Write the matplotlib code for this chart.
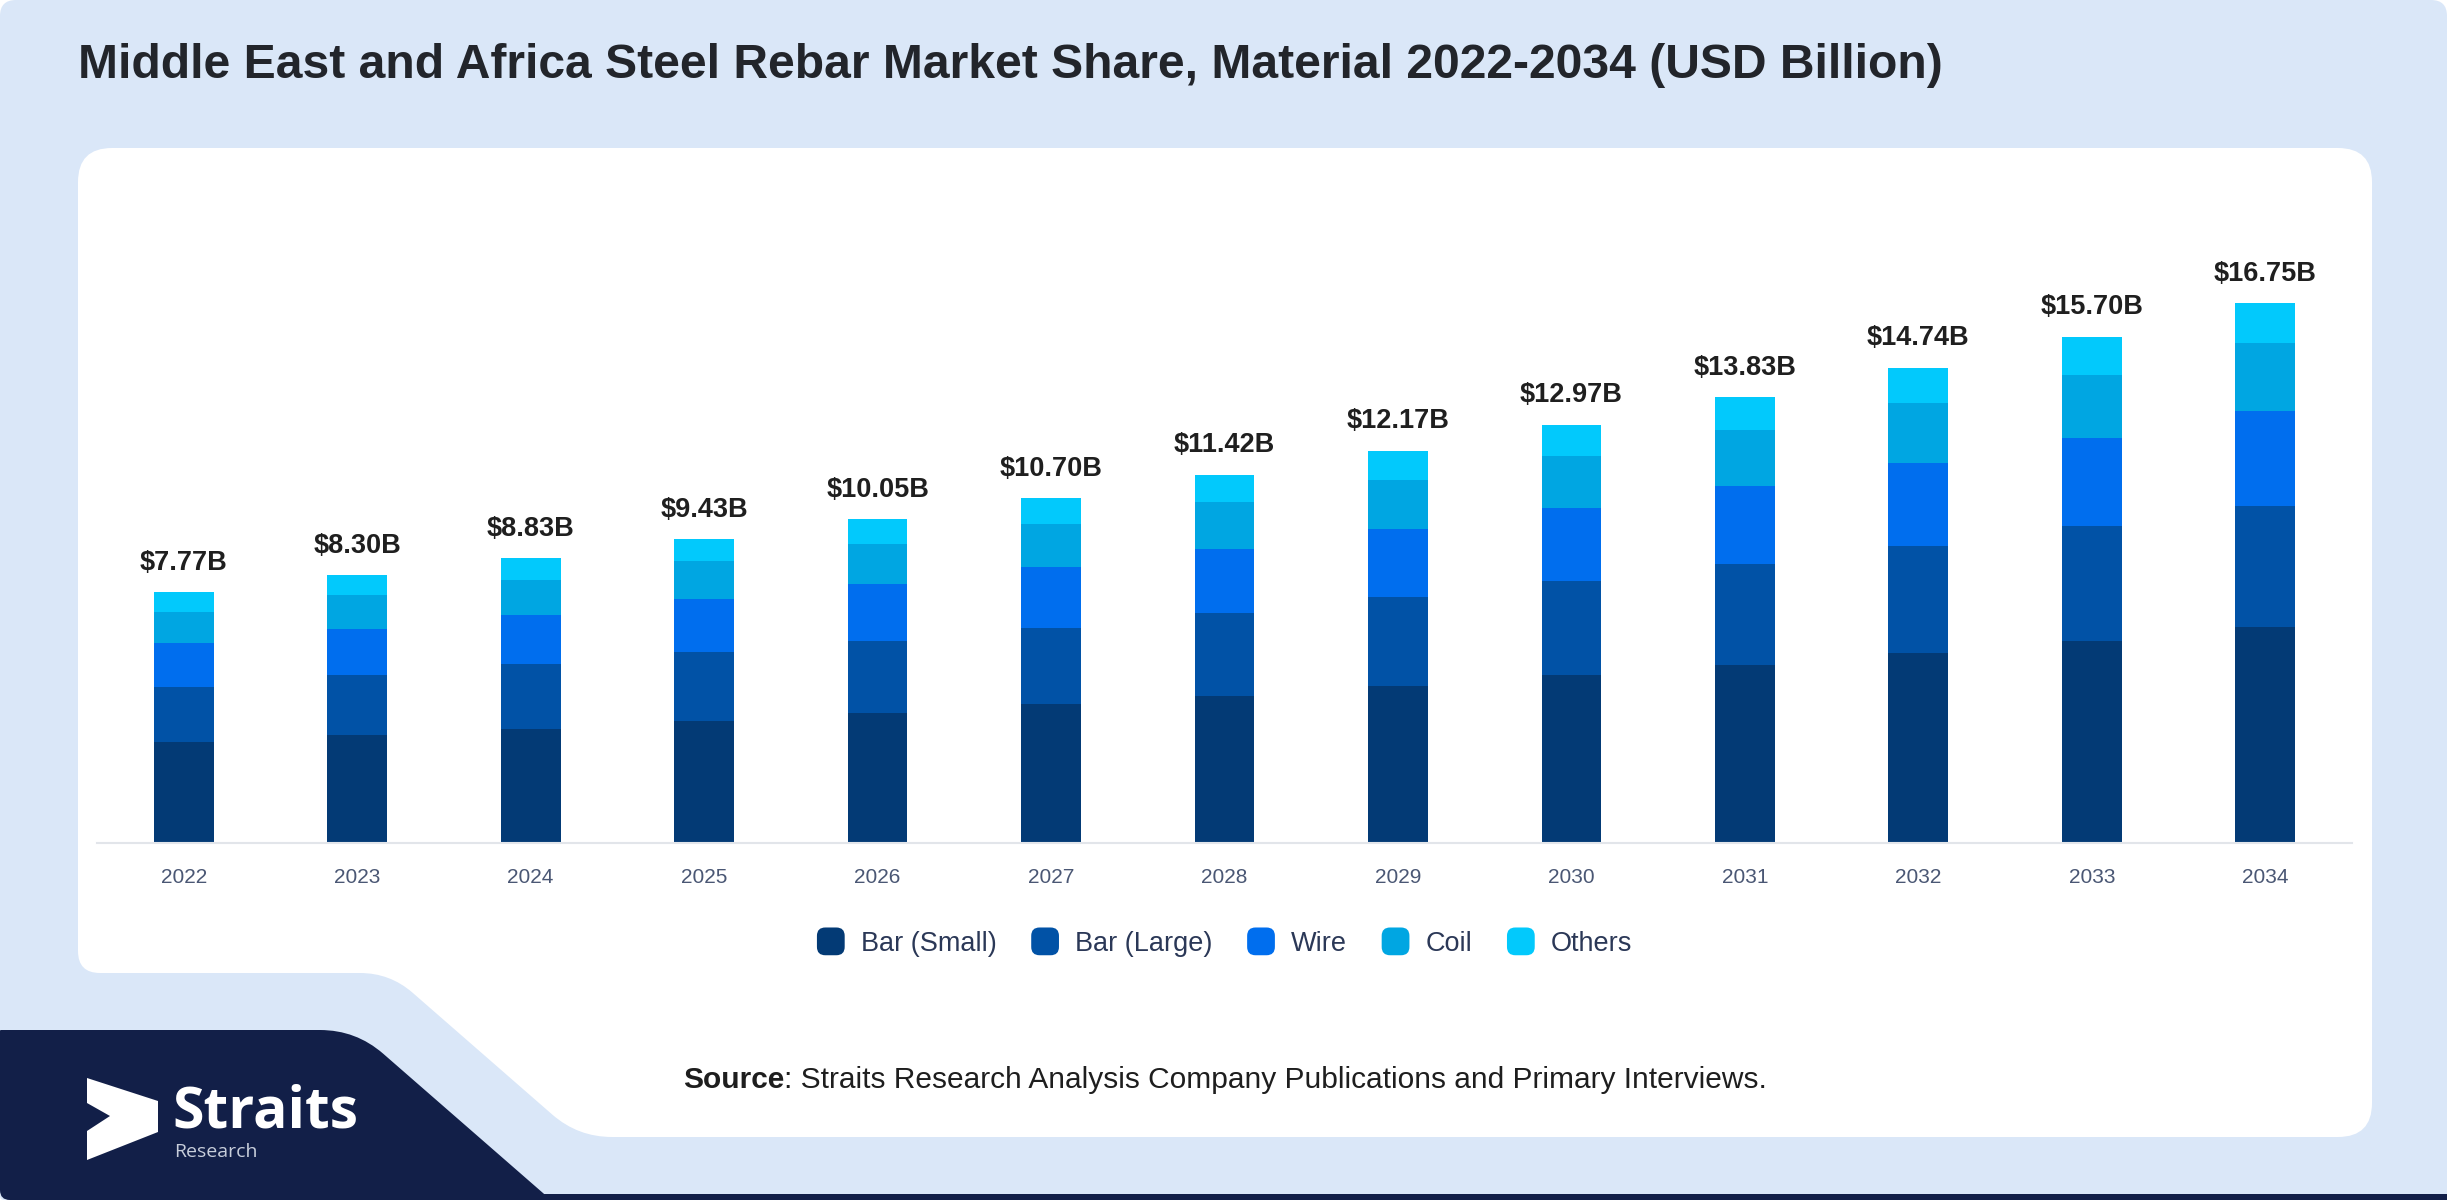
import numpy as np
import matplotlib
matplotlib.use("Agg")
import matplotlib.pyplot as plt
from matplotlib.path import Path
from matplotlib.patches import PathPatch, Patch, FancyBboxPatch, Polygon
from matplotlib.legend_handler import HandlerPatch

plt.rcParams['font.family'] = ['Liberation Sans', 'DejaVu Sans']

# data (USD Billion)
years = ['2022', '2023', '2024', '2025', '2026', '2027', '2028',
         '2029', '2030', '2031', '2032', '2033', '2034']
bar_small = [3.12, 3.34, 3.54, 3.79, 4.04, 4.31, 4.57, 4.88, 5.22, 5.52, 5.90, 6.27, 6.70]
bar_large = [1.72, 1.86, 2.01, 2.13, 2.22, 2.37, 2.56, 2.74, 2.90, 3.12, 3.32, 3.55, 3.75]
wire = [1.36, 1.44, 1.53, 1.65, 1.77, 1.88, 1.99, 2.12, 2.27, 2.43, 2.57, 2.73, 2.94]
coil = [0.96, 1.04, 1.09, 1.17, 1.25, 1.32, 1.44, 1.52, 1.60, 1.74, 1.84, 1.96, 2.11]
others = [0.61, 0.62, 0.66, 0.69, 0.77, 0.82, 0.86, 0.91, 0.98, 1.02, 1.11, 1.19, 1.25]
totals = [7.77, 8.30, 8.83, 9.43, 10.05, 10.70, 11.42, 12.17, 12.97, 13.83, 14.74, 15.70, 16.75]

series = ['Bar (Small)', 'Bar (Large)', 'Wire', 'Coil', 'Others']
colors = ['#033a75', '#0152a6', '#006eee', '#00a6e2', '#02c9fc']

LIGHT = '#dae7f8'
NAVY = '#121f48'


def rounded_path(pts, radii):
    # polygon with quadratic-rounded corners
    verts, codes = [], []
    n = len(pts)
    for i in range(n):
        p0 = np.array(pts[i - 1], float)
        p1 = np.array(pts[i], float)
        p2 = np.array(pts[(i + 1) % n], float)
        r = radii[i]
        d1 = (p0 - p1) / np.linalg.norm(p0 - p1)
        d2 = (p2 - p1) / np.linalg.norm(p2 - p1)
        a = p1 + d1 * r
        b = p1 + d2 * r
        verts.append(a)
        codes.append(Path.MOVETO if i == 0 else Path.LINETO)
        verts += [p1, b]
        codes += [Path.CURVE3, Path.CURVE3]
    verts.append(verts[0])
    codes.append(Path.CLOSEPOLY)
    return Path(verts, codes)


fig = plt.figure(figsize=(24.5, 12), dpi=100)
fig.patch.set_facecolor('white')

# background card in pixel coordinates
bg = fig.add_axes([0, 0, 1, 1], zorder=-1)
bg.set_xlim(0, 2450)
bg.set_ylim(1200, 0)
bg.axis('off')

bg.add_patch(PathPatch(rounded_path([(0, 0), (2447, 0), (2447, 1200), (0, 1200)],
                                    [16, 16, 4, 4]), fc=LIGHT, ec='none'))
bg.add_patch(PathPatch(rounded_path([(78, 148), (2372, 148), (2372, 1137), (578, 1137),
                                     (390, 973), (78, 973)],
                                    [34, 34, 34, 34, 30, 22]), fc='white', ec='none'))
bg.add_patch(PathPatch(rounded_path([(0, 1030), (356, 1030), (551, 1200), (0, 1200)],
                                    [1, 36, 1, 10]), fc=NAVY, ec='none'))
bg.add_patch(plt.Rectangle((500, 1194), 1947, 6, fc=NAVY, ec='none'))

# logo
bg.add_patch(Polygon([(87, 1078), (158, 1101), (158, 1132), (87, 1160),
                      (87, 1131), (110, 1116), (87, 1103)], closed=True,
                     fc='white', ec='none'))
bg.text(172, 1128, 'Straits', color='white', fontsize=41, fontweight='bold',
        family=['Open Sans', 'DejaVu Sans'], va='baseline', ha='left')
bg.text(174, 1157, 'Research', color='#c8cedb', fontsize=14,
        family=['Open Sans', 'DejaVu Sans'], va='baseline', ha='left')

# title
bg.text(78, 78, 'Middle East and Africa Steel Rebar Market Share, Material 2022-2034 (USD Billion)',
        fontsize=34.6, fontweight='bold', color='#22252b', va='baseline', ha='left')

# source line
src = bg.text(683, 1094, 'Source', fontsize=21.5, fontweight='bold', color='#1e1e1e',
              va='bottom', ha='left')
bg.annotate(': Straits Research Analysis Company Publications and Primary Interviews.',
            xy=(1, 0), xycoords=src, fontsize=21.5, color='#1e1e1e',
            va='bottom', ha='left')

# chart
ax = fig.add_axes([97 / 2450, 357 / 1200, 2255 / 2450, 645 / 1200])
ax.set_facecolor('none')
x = np.arange(len(years))
bottom = np.zeros(len(years))
for name, vals, col in zip(series, [bar_small, bar_large, wire, coil, others], colors):
    ax.bar(x, vals, width=0.345, bottom=bottom, color=col, label=name, zorder=2)
    bottom += np.array(vals)

for xi, tot, top in zip(x, totals, bottom):
    ax.annotate(f'${tot:.2f}B', xy=(xi, top), xytext=(0, 16), textcoords='offset points',
                ha='center', va='baseline', fontsize=19.5, fontweight='bold', color='#1f1f1f')

ax.set_xlim(-0.5, len(years) - 0.5)
ax.set_ylim(0, 20)
ax.set_xticks(x)
ax.set_xticklabels(years, fontsize=15, color='#4a5774')
ax.tick_params(axis='x', length=0, pad=18)
ax.set_yticks([])
for s in ['top', 'left', 'right']:
    ax.spines[s].set_visible(False)
ax.spines['bottom'].set_color('#e2e5ea')
ax.spines['bottom'].set_linewidth(1.5)


def rounded_handle(legend, orig_handle, xdescent, ydescent, width, height, fontsize):
    s = min(width, height)
    return FancyBboxPatch((-xdescent + (width - s) / 2, -ydescent + (height - s) / 2), s, s,
                          boxstyle=f'round,pad=0,rounding_size={s * 0.3}')


handles = [Patch(facecolor=c, label=n) for n, c in zip(series, colors)]
fig.legend(handles=handles, loc='center', bbox_to_anchor=(0.4993, 0.215), ncol=5,
           frameon=False, fontsize=19.5, labelcolor='#2b3857',
           handlelength=1.2, handleheight=1.2, handletextpad=0.5, columnspacing=1.2,
           handler_map={Patch: HandlerPatch(patch_func=rounded_handle)})

fig.savefig('out.png', dpi=100, facecolor=fig.get_facecolor())
